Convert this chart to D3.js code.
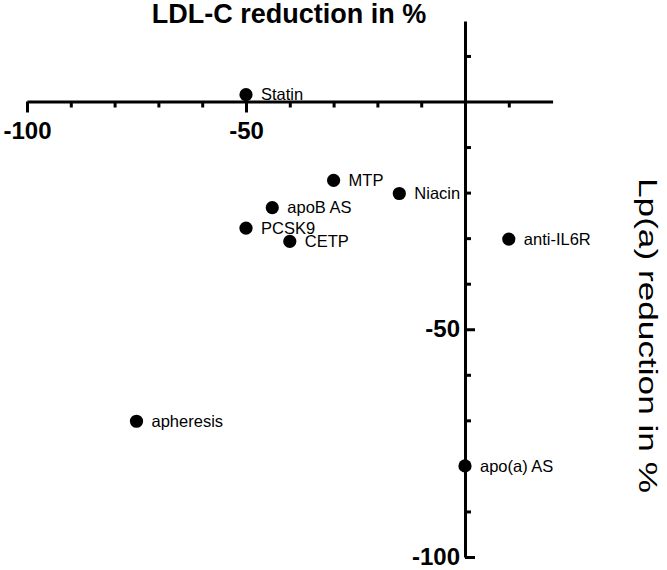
<!DOCTYPE html>
<html>
<head>
<meta charset="utf-8">
<script src="https://cdn.jsdelivr.net/npm/d3@7"></script>
<style>
  body { margin: 0; background: #fff; }
  svg { display: block; font-family: Arial, "Liberation Sans", Helvetica, sans-serif; }
  .axis path, .axis line { stroke: #000; stroke-width: 3; }
  .axis text { font-size: 24px; font-weight: bold; fill: #000; font-family: Arial, "Liberation Sans", sans-serif; }
  .pt-label { font-size: 16.5px; fill: #000; }
</style>
</head>
<body>
<svg id="chart" width="667" height="570"></svg>
<script>
// therapies and their effect (LDL-C %, Lp(a) %)
const therapies = ['Statin', 'MTP', 'Niacin', 'apoB AS', 'PCSK9', 'CETP', 'anti-IL6R', 'apheresis', 'apo(a) AS'];
const ldlReduction = [-50, -30, -15, -44, -50, -40, 10, -75, 0];
const lpaReduction = [1.5, -17.3, -20.2, -23.3, -27.8, -30.7, -30.2, -70.2, -80];

const xMajor = [-100, -50];
const xMinor = [-90, -80, -70, -60, -40, -30, -20, -10, 10];
const yMajor = [-50, -100];
const yMinor = [10, -10, -20, -30, -40, -60, -70, -80, -90];

const svg = d3.select('#chart');

const x = d3.scaleLinear()
  .domain([-100, 20])
  .range([27, 552.6]);

const y = d3.scaleLinear()
  .domain([-100, 17.7])
  .range([557, 557 - 117.7 * 4.555]);

const plainNum = d => String(d); // hyphen minus, as in the original

// x axis, crossing at y = 0
const xAxisG = svg.append('g')
  .attr('class', 'axis')
  .attr('transform', `translate(0,${y(0)})`);

xAxisG.append('g')
  .call(d3.axisBottom(x).tickValues(xMinor).tickSize(6).tickSizeOuter(0).tickFormat(''));
xAxisG.append('g')
  .call(d3.axisBottom(x).tickValues(xMajor).tickSize(11).tickSizeOuter(0).tickPadding(9).tickFormat(plainNum))
  .select('.domain').remove();

// y axis, crossing at x = 0, ticks point right, labels on the left
const yAxisG = svg.append('g')
  .attr('class', 'axis')
  .attr('transform', `translate(${x(0)},0)`);

yAxisG.append('g')
  .call(d3.axisLeft(y).tickValues(yMinor).tickSize(-6).tickSizeOuter(0).tickFormat(''));
yAxisG.append('g')
  .call(d3.axisLeft(y).tickValues(yMajor).tickSize(-10).tickSizeOuter(0).tickPadding(5).tickFormat(plainNum))
  .select('.domain').remove();

svg.selectAll('.axis .domain').attr('fill', 'none');

// points
const pts = svg.append('g')
  .selectAll('g')
  .data(therapies)
  .enter()
    .append('g')
    .attr('transform', (d, i) => `translate(${x(ldlReduction[i])},${y(lpaReduction[i])})`);

pts.append('circle')
  .attr('r', 6.6)
  .attr('fill', '#000');

pts.append('text')
  .attr('class', 'pt-label')
  .attr('x', 15)
  .attr('dy', '0.35em')
  .text(d => d);

// titles
svg.append('text')
  .attr('x', 289)
  .attr('y', 23.3)
  .attr('text-anchor', 'middle')
  .style('font-size', '27px')
  .style('font-weight', 'bold')
  .text('LDL-C reduction in %');

svg.append('text')
  .attr('transform', 'translate(639,335.5) rotate(90)')
  .attr('text-anchor', 'middle')
  .attr('textLength', 315)
  .attr('lengthAdjust', 'spacingAndGlyphs')
  .style('font-size', '25px')
  .text('Lp(a) reduction in %');
</script>
</body>
</html>
